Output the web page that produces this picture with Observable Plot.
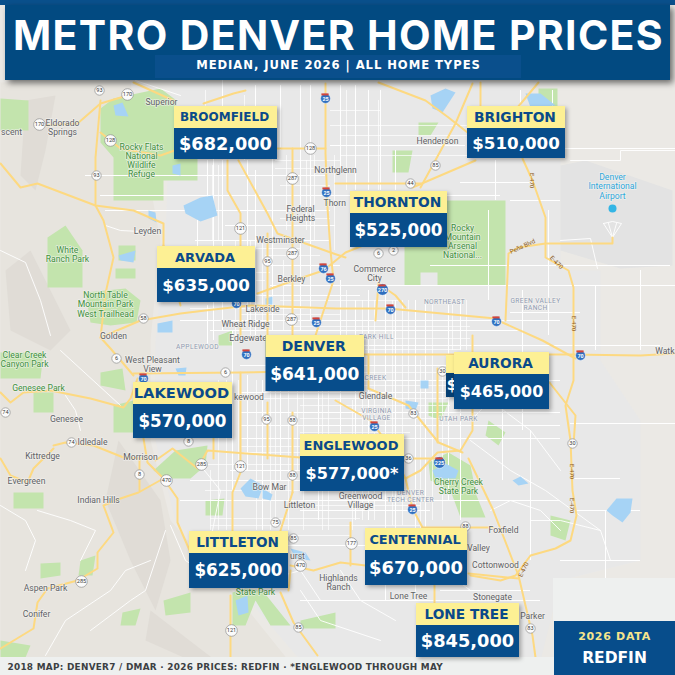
<!DOCTYPE html>
<html><head><meta charset="utf-8">
<script src="https://cdn.jsdelivr.net/npm/d3@7"></script>
<script src="https://cdn.jsdelivr.net/npm/@observablehq/plot@0.6"></script>
<style>html,body{margin:0;padding:0;background:#fff}svg{display:block}</style>
</head><body><div id="chart"></div>
<script>
// ---------- the chart's values ----------
const cities = ["BROOMFIELD","BRIGHTON","THORNTON","ARVADA","DENVER","LAKEWOOD","AURORA","ENGLEWOOD","LITTLETON","CENTENNIAL","LONE TREE"];
const prices = [682000,510000,525000,635000,641000,570000,465000,577000,625000,670000,845000];
const priceNotes = ["","","","","","","","*","","",""];
const titleText = "METRO DENVER HOME PRICES";
const subtitleText = "MEDIAN, JUNE 2026 | ALL HOME TYPES";
const footerText = "2018 MAP: DENVER7 / DMAR · 2026 PRICES: REDFIN · *ENGLEWOOD THROUGH MAY";
const badgeTop = "2026 DATA", badgeBottom = "REDFIN";

// ---------- map-unit placement of each city card ----------
const cardLeft  = [174,467,350,157,265.5,133,454,300,189,365,416];
const cardRight = [277,565,447,255,364,232,549,404,288,467,519];
const cardTop   = [106,106,191,246,335,382,352,434,531,528,603];
const cardSplit = [128,128,213,268,357,404,374,456,553,550,625];
const cardBottom= [159,158,247,302,391,438,409,491,588,585,657];
const nameSize  = [12,13.8,13.8,13,14,14.7,13.7,13,13.6,12.9,13.7];
const priceSize = [17.7,16.7,16.8,16.7,17,16.8,15.9,16.1,16.8,17.9,17.8];

// ---------- base map, in map units ----------
const landPatches = [
 {c:"#e7e4de",p:[[0,82],[130,82],[160,240],[150,340],[150,440],[170,520],[240,600],[300,675],[0,675]]},
 {c:"#e8e8e8",p:[[170,82],[530,82],[520,160],[560,160],[560,270],[600,270],[600,360],[640,420],[640,560],[560,580],[540,660],[300,660],[240,590],[175,520],[155,440],[155,340],[165,240]]},
 {c:"#e3e3e3",p:[[560,165],[585,160],[672,190],[672,265],[620,268],[560,250]]},
 {c:"#e0dcd6",p:[[25,100],[55,95],[45,150],[35,190],[20,175]]},
 {c:"#e0dcd6",p:[[118,440],[160,500],[170,560],[155,610],[130,560],[105,500]]},
 {c:"#e0dcd6",p:[[30,250],[70,330],[50,350],[10,330],[5,270]]},
 {c:"#e0dcd6",p:[[150,610],[215,660],[190,660],[145,640]]}
];
const parks = [
 [[100,108],[113,98],[160,88],[176,100],[174,158],[197,158],[197,180],[163,180],[163,200],[113,200],[113,157],[100,142]],
 [[0,98],[28,100],[28,130],[0,130]],
 [[47,237],[65,225],[82,250],[82,287],[47,287]],
 [[85,292],[125,288],[140,300],[136,322],[110,325],[90,322]],
 [[115,268],[135,268],[135,278],[115,278]],
 [[440,200],[505,200],[505,285],[437,285],[437,272],[420,272],[420,285],[404,285],[404,245],[447,245]],
 [[428,462],[448,452],[470,465],[476,495],[485,517],[460,517],[450,490],[430,480]],
 [[153,470],[175,450],[207,445],[205,465],[190,478],[165,478]],
 [[232,592],[245,588],[262,590],[290,625],[270,625],[255,600],[245,625],[232,625]],
 [[163,600],[190,592],[190,612],[165,615]],
 [[40,563],[60,562],[60,575],[40,578]],
 [[13,492],[43,492],[43,508],[13,508]],
 [[0,352],[43,352],[40,378],[0,378]],
 [[33,392],[53,392],[53,412],[33,412]],
 [[113,405],[133,400],[135,432],[113,432]],
 [[100,372],[122,368],[125,390],[100,385]],
 [[538,88],[557,88],[557,117],[538,117]],
 [[418,122],[438,122],[430,135],[418,135]],
 [[392,150],[412,150],[408,172],[392,172]],
 [[0,640],[30,645],[25,657],[0,657]],
 [[118,245],[135,245],[135,260],[118,260]],
 [[300,620],[335,612],[335,628],[300,628]],
 [[428,402],[448,402],[440,420],[428,415]],
 [[488,420],[505,432],[498,445],[485,435]],
 [[550,515],[570,520],[565,540],[550,535]],
 [[122,612],[140,608],[135,625],[120,625]],
 [[80,560],[95,555],[92,575],[78,575]],
 [[218,335],[232,330],[232,345],[218,345]],
 [[205,500],[224,498],[222,515],[205,515]]
];
const lakes = [
 [[183,205],[200,197],[212,195],[217,215],[200,221],[185,213]],
 [[113,105],[122,102],[128,116],[115,115]],
 [[172,165],[180,163],[180,175],[172,173]],
 [[148,210],[155,212],[156,222],[148,218]],
 [[118,255],[135,250],[133,262],[120,260]],
 [[525,93],[540,93],[555,105],[530,107]],
 [[432,470],[445,463],[458,470],[455,478],[435,478]],
 [[240,488],[250,478],[263,485],[258,498],[245,496]],
 [[235,600],[247,595],[248,612],[238,615]],
 [[606,510],[616,498],[632,498],[630,512],[622,522],[612,515]],
 [[512,480],[520,476],[528,483],[518,485]],
 [[430,95],[445,88],[455,92],[442,112],[432,108]],
 [[175,368],[186,367],[185,375],[178,375]],
 [[157,323],[172,320],[172,332],[157,332]],
 [[265,298],[272,296],[272,304],[265,304]],
 [[290,548],[305,552],[310,560],[295,558]],
 [[262,488],[272,494],[270,500],[262,498]],
 [[420,380],[428,380],[428,388],[420,388]],
 [[405,400],[418,402],[415,410],[405,408]]
];
const streetsV = [[197,200,300],[207,160,200],[207,305,345],[213,140,340],[222,80,130],[222,160,330],[232,330,530],[247,160,320],[247,375,470],[255,85,110],[255,170,335],[262,380,530],[272,150,330],[280,85,150],[280,375,480],[300,85,210],[300,240,330],[310,85,320],[318,380,520],[340,85,170],[340,280,440],[355,85,190],[355,300,520],[368,90,190],[368,290,520],[380,90,190],[385,290,600],[395,150,190],[395,300,530],[415,300,600],[425,300,530],[448,300,500],[460,300,350],[460,400,520],[488,210,300],[495,160,200],[520,90,155],[522,290,430],[530,430,560],[548,210,335],[502,400,480],[595,285,350],[605,510,580],[552,90,110],[640,270,350]];
const streetsH = [[175,85,325],[195,100,500],[210,105,330],[225,225,335],[240,195,330],[265,265,340],[285,270,560],[295,195,360],[320,180,560],[330,210,520],[345,350,660],[365,240,545],[380,300,560],[392,240,445],[412,240,560],[425,240,560],[438,240,560],[470,230,400],[480,190,300],[500,180,560],[510,300,430],[545,200,470],[590,440,530],[148,520,675],[145,330,465],[182,460,535],[200,510,560],[285,560,675],[423,570,675],[478,570,620],[265,430,670],[600,300,540],[312,510,580],[510,575,640],[560,560,640]];
const fineV = [[283,260,330],[286,155,230],[297,380,470],[303,390,530],[306,160,230],[314,155,240],[322,380,530],[328,340,530],[334,155,250],[346,90,190],[346,290,340],[352,400,530],[362,300,520],[374,300,520],[378,100,190],[392,300,525],[402,300,525],[408,300,400],[420,360,530],[432,300,520],[442,370,520],[452,300,350],[466,300,350],[478,360,380],[238,380,470],[256,380,530],[270,380,530],[275,385,520],[288,370,530],[226,380,530],[218,380,530],[210,470,530],[205,90,130],[212,165,240],[218,165,240],[235,240,340],[244,95,160],[250,240,335],[262,240,330]];
const fineH = [[300,280,400],[308,190,330],[314,240,340],[326,290,470],[338,300,470],[349,365,460],[372,350,470],[385,290,450],[398,240,450],[405,300,450],[418,300,450],[432,300,410],[446,240,300],[452,240,300],[464,205,300],[490,205,300],[505,300,420],[518,210,360],[525,210,420],[535,200,350],[160,275,340],[168,275,330],[185,280,330],[218,280,330],[248,200,300],[255,265,320],[272,200,270],[280,195,265],[110,330,380],[125,330,470],[135,340,470],[155,340,470]];
const trails = [
 [[0,250],[25,262],[40,300],[50,335]],[[60,350],[120,405]],[[105,225],[120,230],[160,232]],
 [[37,510],[70,520],[95,530],[80,560]],[[150,560],[125,570],[110,590],[65,620],[45,655]],[[165,530],[145,590],[130,600],[90,630]],
 [[0,505],[25,520],[35,540],[25,570]],[[170,525],[185,560],[215,580],[230,570]],[[65,395],[75,410],[80,430]],
 [[470,420],[490,400],[530,430],[560,470]],[[470,440],[510,470],[545,490],[600,530]],[[490,510],[510,500],[540,510],[560,530]],
 [[530,520],[560,520],[600,530],[610,560]],[[430,560],[470,590],[510,590]],[[340,570],[360,600],[395,620]],[[300,590],[320,620],[380,640]],
 [[135,80],[180,95]],[[570,160],[620,160],[620,150],[675,150]],[[282,575],[300,570],[320,600]],[[200,465],[220,490],[210,540],[240,540]],
 [[603,223],[612,237],[621,223],[612,221],[603,223]],[[608,223],[612,237],[616,223]],[[560,240],[590,238],[597,268]]
];
const majorRoads = [
 [[100,100],[95,157],[95,205],[103,220],[113,257],[105,293],[100,337]],
 [[0,163],[20,187],[37,183],[95,205],[133,210],[163,223],[163,245]],
 [[163,245],[170,265],[180,305]],
 [[43,125],[77,123],[100,103],[127,95]],
 [[100,132],[110,140],[120,148],[160,155],[174,150]],
 [[277,148],[325,148]],
 [[133,82],[173,100]],[[203,103],[233,93],[245,90]],
 [[227,160],[227,190],[240,213],[240,335]],
 [[238,160],[267,213],[277,233],[333,253],[345,257]],
 [[325,83],[325,153],[327,207],[330,250],[333,280],[315,335]],
 [[292,148],[292,335]],[[267,233],[267,335]],
 [[100,337],[140,320],[180,313],[213,309],[250,305],[335,308],[388,308],[495,318],[502,322],[542,340],[575,358]],
 [[257,293],[293,280],[323,270],[345,252],[400,230]],
 [[378,82],[425,100],[448,117],[467,132]],
 [[522,158],[532,180],[545,217],[545,257],[568,270],[573,287],[573,335],[573,380],[565,405],[570,440],[572,490],[576,515],[570,540],[555,548],[530,555],[515,575],[500,580],[470,575]],
 [[468,458],[492,508],[518,575],[532,635],[535,657]],
 [[505,320],[508,253],[518,247],[545,243],[612,243],[612,237]],
 [[412,187],[475,160]],[[335,183],[420,183]],[[420,187],[455,123],[472,83]],
 [[480,82],[480,107]],[[538,82],[517,107]],
 [[378,283],[395,295],[405,307]],[[378,283],[375,320]],
 [[340,354],[445,354],[570,354],[640,355],[675,353]],
 [[368,388],[408,405],[438,442],[462,452]],
 [[472,335],[472,430],[460,450],[437,452],[420,470],[405,478]],
 [[335,400],[370,420],[385,440],[405,478],[412,508],[422,527],[434,585],[434,603]],
 [[0,392],[10,402],[23,392],[50,390],[90,398],[123,407],[130,398],[137,378]],
 [[133,373],[240,372],[340,370]],[[100,337],[110,348],[133,375]],
 [[143,438],[147,462],[163,478],[177,498],[177,522],[190,552]],
 [[290,565],[313,570],[340,562],[365,565]],[[468,573],[518,578]],
 [[155,460],[172,448],[197,468],[207,450],[300,457]],
 [[240,372],[240,472],[232,492],[232,532]],
 [[0,648],[33,628],[37,602],[47,588],[77,580],[97,568],[97,552],[113,532],[103,505],[120,498],[138,492],[163,478]],
 [[53,445],[65,442],[93,445],[123,457],[143,458]],
 [[0,458],[10,475],[27,482],[33,468],[53,448]],[[139,458],[139,490]],
 [[280,592],[293,622],[317,655]],[[230,595],[230,657]],
 [[422,527],[492,527]],[[350,522],[350,565]],[[405,458],[437,458]],
 [[437,368],[437,442]],[[549,382],[575,415],[573,445]],
 [[267,402],[267,458]],[[292,412],[292,492]],[[213,438],[213,458]],
 [[292,492],[280,530],[276,545]],[[368,354],[368,388]],[[434,603],[434,625]],
 [[290,570],[288,590]]
];
const placeNames = [
 ["Superior",161,102],["Eldorado\nSprings",62,127],["Leyden",147,231],["Golden",113,336],
 ["Federal\nHeights",300,213],["Westminster",280,240],["Berkley",291,279],["Lakeside",262,309],["Wheat Ridge",245,324],["Edgewater",249,338],
 ["Northglenn",335,170],["Henderson",437,141],["Commerce\nCity",374,273],
 ["West Pleasant\nView",152,364],["Genesee",66,419],["Idledale",92,442],["Kittredge",42,456],["Morrison",140,457],["Evergreen",26,481],["Indian Hills",98,500],
 ["Bow Mar",269,487],["Littleton",299,505],["Aspen Park",45,588],["Conifer",36,614],["Highlands\nRanch",338,582],
 ["Glendale",375,396],["Greenwood\nVillage",360,500],["Foxfield",503,530],["Valley",478,548],["Cottonwood",495,565],["Lone Tree",408,596],["Stonegate",492,597],["Parker",532,616]
];
const edgeNames = [["scent",0.5,132],["kewood",233.5,397],["urst",289.5,556],["Thorn",323,203]];
const endNames = [["Watk",674,351]];
const parkNames = [
 ["Rocky Flats\nNational\nWildlife\nRefuge",141,160],["White\nRanch Park",67,254],["North Table\nMountain Park\nWest Trailhead",105,304],
 ["Rocky\nMountain\nArsenal\nNational...",462,241],["Clear Creek\nCanyon Park",24,359],["Genesee Park",38,388],["State Park",255,592],["Cherry Creek\nState Park",458,486]
];
const districtNames = [
 ["NORTHEAST",444,301],["GREEN VALLEY\nRANCH",535,304],["PARK HILL",376,336],["APPLEWOOD",197,346],["CREEK",375,377],
 ["VIRGINIA\nVILLAGE",376,414],["UTAH PARK",458,418],["DENVER\nTECH CENTER",410,496]
];
const airportName = [["Denver\nInternational\nAirport",612,186]];
const stateShields = [
 ["93",99,90],["170",127,94],["170",39,124],["128",110,140],["93",96,175],["128",310,148],["287",292,178],["121",240,228],["287",292,253],["95",267,261],["58",143,318],["287",291,319],
 ["85",435,165],["44",410,183],["2",393,250],["6",378,253],["6",116,358],["6",225,372],["74",5,412],["74",71,442],["8",188,441],["8",139,474],["285",201,464],["470",166,480],["121",240,466],
 ["95",266,419],["88",292,420],["88",292,475],["75",275,522],["85",293,538],["470",300,565],["285",81,581],["121",231,630],["85",298,627],["30",442,371],["83",413,413],["36",408,458],["88",465,526],["177",351,543],["30",572,443],["83",530,628]
];
const interstates = [
 ["25",325,98],["25",326,192],["76",323,268],["25",330,278],["25",316,322],["70",236,303],["70",143,378],["70",246,354],["270",382,289],["70",390,309],["70",496,321],["70",580,355],["25",374,426],["225",439,462],["25",412,509]
];
const roadCaptions = [["E-470",531,180,90],["E-470",556,262,45],["E-470",573,323,90],["E-470",571,471,90],["E-470",571,505,90],["E-470",523,569,-65],["Peña Blvd",522,246,-25]];

// ---------- frame panels ----------
const header = {x1:5,x2:670,y1:5,y2:80}, topBand = {x1:0,x2:675,y1:0,y2:5}, subBand = {x1:155,x2:521,y1:55,y2:78};
const footer = [{x1:0,x2:554,y1:657,y2:675},{x1:553,x2:675,y1:578,y2:621}];
const badge = {x1:554,x2:675,y1:621,y2:675};
const hiddenCard = {x1:446,x2:456,ySplit:373,y1:355,y2:397};

// ---------- helpers ----------
const navy="#074d8b", yellow="#fdf094", nameBlue="#0a4a8a", roadYellow="#fdd981";
const polyRows = list => list.flatMap((p,i)=>p.map(([x,y])=>({x,y,id:i})));
const textRows = list => list.map(([t,x,y,r])=>({t,x,y,r}));
const spaced = s => (i,sc,v,d,c,next)=>{const g=next(i,sc,v,d,c);g.setAttribute("letter-spacing",s);return g;};
const poly = (list,fill)=>Plot.line(polyRows(list),{x:"x",y:"y",z:"id",fill,stroke:"none",curve:"linear"});
const road = (list,w,color)=>Plot.line(polyRows(list),{x:"x",y:"y",z:"id",stroke:color,strokeWidth:w,curve:"linear",strokeLinejoin:"round"});
const mapText=(list,fill,size,opts={})=>Plot.text(textRows(list),{x:"x",y:"y",text:"t",fill,fontSize:size,fontFamily:"Roboto",stroke:"#f4f3f0",strokeWidth:1.6,strokeOpacity:.7,lineHeight:1.08,...opts});

const cardRows = cities.map((name,i)=>({name,left:cardLeft[i],right:cardRight[i],top:cardTop[i],split:cardSplit[i],bottom:cardBottom[i],
  cx:(cardLeft[i]+cardRight[i])/2,ny:(cardTop[i]+cardSplit[i])/2,py:(cardSplit[i]+cardBottom[i])/2,
  ns:nameSize[i],ps:priceSize[i],price:d3.format("$,")(prices[i])+priceNotes[i]}));
const shadow="drop-shadow(2px 2px 2px rgba(0,0,0,.32))";
const frameFont="DejaVu Sans";

const chart = Plot.plot({
  width:675,height:675,margin:0,
  x:{domain:[0,675],range:[0,675],axis:null},
  y:{domain:[0,675],range:[0,675],axis:null},
  r:{type:"identity"},
  style:{background:"#ebe9e5"},
  marks:[
    ...d3.groups(landPatches,d=>d.c).map(([c,g])=>poly(g.map(d=>d.p),c)),
    poly(parks,"#c3e4ad"),
    Plot.ruleX(fineV,{x:d=>d[0],y1:d=>d[1],y2:d=>d[2],stroke:"#fff",strokeWidth:.7}),
    Plot.ruleY(fineH,{y:d=>d[0],x1:d=>d[1],x2:d=>d[2],stroke:"#fff",strokeWidth:.7}),
    Plot.ruleX(streetsV,{x:d=>d[0],y1:d=>d[1],y2:d=>d[2],stroke:"#fff",strokeWidth:1}),
    Plot.ruleY(streetsH,{y:d=>d[0],x1:d=>d[1],x2:d=>d[2],stroke:"#fff",strokeWidth:1}),
    road(trails,.9,"#fff"),
    poly(lakes,"#a6d3f5"),
    road(majorRoads,2,roadYellow),
    mapText(placeNames,"#5f6266",8.6),
    mapText(edgeNames,"#5f6266",8.6,{textAnchor:"start"}),
    mapText(endNames,"#5f6266",8.6,{textAnchor:"end"}),
    mapText(parkNames,"#3f9140",8.6),
    mapText(districtNames,"#8f9bb3",6.6,{render:spaced("0.4px")}),
    mapText(airportName,"#2fa7dc",8.6),
    Plot.text(textRows(roadCaptions),{x:"x",y:"y",text:"t",rotate:"r",fontSize:6.2,fontFamily:"Roboto",fill:"#8a5a22"}),
    Plot.dot([[612,208]],{x:d=>d[0],y:d=>d[1],r:4,fill:"#33b5e5"}),
    Plot.dot(stateShields,{x:d=>d[1],y:d=>d[2],r:d=>d[0].length>2?5.8:4.7,fill:"#fbfbfb",stroke:"#8f8f8f",strokeWidth:.7}),
    Plot.text(stateShields,{x:d=>d[1],y:d=>d[2],text:d=>d[0],fontSize:5.6,fontFamily:"Roboto",fill:"#3c3c3c"}),
    Plot.dot(interstates,{x:d=>d[1],y:d=>d[2],r:d=>d[0].length>2?5.8:4.9,fill:"#2f6fbf",stroke:"#fff",strokeWidth:.5}),
    Plot.rect(interstates,{x1:d=>d[1]-3.6,x2:d=>d[1]+3.6,y1:d=>d[2]-4.6,y2:d=>d[2]-2.6,fill:"#d5453a"}),
    Plot.text(interstates,{x:d=>d[1],y:d=>d[2]+.6,text:d=>d[0],fontSize:5.4,fontWeight:"bold",fontFamily:"Roboto",fill:"#fff"}),

    // panels around the map
    Plot.rect(footer,{x1:"x1",x2:"x2",y1:"y1",y2:"y2",fill:"#eef0ef"}),
    Plot.text([footerText],{x:[7],y:[667],text:d=>d,textAnchor:"start",fontFamily:frameFont,fontWeight:"bold",fontSize:8.9,fill:"#3c4043",render:spaced("0.28px")}),
    Plot.rect([hiddenCard],{x1:"x1",x2:"x2",y1:"y1",y2:"ySplit",fill:yellow,imageFilter:shadow}),
    Plot.rect([hiddenCard],{x1:"x1",x2:"x2",y1:"ySplit",y2:"y2",fill:"#063f72",imageFilter:shadow}),
    Plot.text(["$"],{x:[451.5],y:[385],text:d=>d,fontFamily:frameFont,fontWeight:"bold",fontSize:15,fill:"#fff"}),

    // city cards
    Plot.rect(cardRows,{x1:"left",x2:"right",y1:"top",y2:"bottom",fill:navy,imageFilter:shadow}),
    Plot.rect(cardRows,{x1:"left",x2:"right",y1:"top",y2:"split",fill:yellow}),
    Plot.text(cardRows,{x:d=>d.cx-1.5,y:"ny",text:"name",fontSize:"ns",fontFamily:frameFont,fontWeight:"bold",fill:nameBlue}),
    Plot.text(cardRows,{x:d=>d.cx-.5,y:"py",text:"price",fontSize:"ps",fontFamily:frameFont,fontWeight:"bold",fill:"#fff"}),

    // badge
    Plot.rect([badge],{x1:"x1",x2:"x2",y1:"y1",y2:"y2",fill:navy}),
    Plot.text([badgeTop],{x:[614],y:[636],text:d=>d,fontFamily:frameFont,fontWeight:"bold",fontSize:11,fill:"#f6e58d",render:spaced("0.7px")}),
    Plot.text([badgeBottom],{x:[614],y:[658],text:d=>d,fontFamily:frameFont,fontWeight:"bold",fontSize:15.5,fill:"#fff"}),

    // header
    Plot.rect([topBand],{x1:"x1",x2:"x2",y1:"y1",y2:"y2",fill:"#0a508c"}),
    Plot.rect([header],{x1:"x1",x2:"x2",y1:"y1",y2:"y2",fill:"#024a81",imageFilter:"drop-shadow(3px 3px 3px rgba(0,0,0,.55))"}),
    Plot.rect([subBand],{x1:"x1",x2:"x2",y1:"y1",y2:"y2",fill:"#0a4f8c"}),
    Plot.text([titleText],{x:[338],y:[36.5],text:d=>d,fontFamily:"Inter",fontWeight:"bold",fontSize:41,fill:"#fff",render:spaced("1.35px")}),
    Plot.text([subtitleText],{x:[338],y:[64.5],text:d=>d,fontFamily:frameFont,fontWeight:"bold",fontSize:11.6,fill:"#fff",render:spaced("0.95px")})
  ]
});
document.getElementById("chart").append(chart);
</script></body></html>
